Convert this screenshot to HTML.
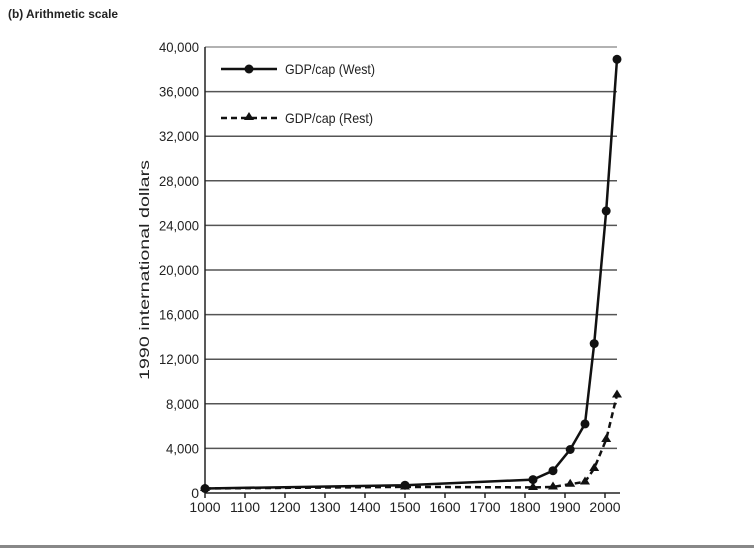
<!DOCTYPE html>
<html><head><meta charset="utf-8"><style>
body{margin:0;background:#fff;width:754px;height:554px;overflow:hidden}
text{font-family:"Liberation Sans Narrow","Liberation Sans",sans-serif;fill:#222}
</style></head><body>
<svg width="754" height="554" viewBox="0 0 754 554">
<text x="8" y="18" font-size="12" font-weight="bold" textLength="110" lengthAdjust="spacingAndGlyphs">(b) Arithmetic scale</text>
<g stroke="#555" stroke-width="1.5">
<line x1="205" y1="47" x2="617" y2="47" stroke="#999"/>
<line x1="205" y1="91.6" x2="617" y2="91.6"/>
<line x1="205" y1="136.2" x2="617" y2="136.2"/>
<line x1="205" y1="180.8" x2="617" y2="180.8"/>
<line x1="205" y1="225.4" x2="617" y2="225.4"/>
<line x1="205" y1="270" x2="617" y2="270"/>
<line x1="205" y1="314.6" x2="617" y2="314.6"/>
<line x1="205" y1="359.2" x2="617" y2="359.2"/>
<line x1="205" y1="403.8" x2="617" y2="403.8"/>
<line x1="205" y1="448.4" x2="617" y2="448.4"/>
</g>
<g stroke="#222" stroke-width="1.5">
<line x1="205" y1="47" x2="205" y2="493"/>
<line x1="205" y1="493" x2="620" y2="493"/>
<line x1="205" y1="493" x2="205" y2="498"/><line x1="245" y1="493" x2="245" y2="498"/><line x1="285" y1="493" x2="285" y2="498"/><line x1="325" y1="493" x2="325" y2="498"/><line x1="365" y1="493" x2="365" y2="498"/><line x1="405" y1="493" x2="405" y2="498"/><line x1="445" y1="493" x2="445" y2="498"/><line x1="485" y1="493" x2="485" y2="498"/><line x1="525" y1="493" x2="525" y2="498"/><line x1="565" y1="493" x2="565" y2="498"/><line x1="605" y1="493" x2="605" y2="498"/>
</g>
<g font-size="14" text-anchor="end">
<text x="199" y="52" textLength="40" lengthAdjust="spacingAndGlyphs">40,000</text><text x="199" y="96.6" textLength="40" lengthAdjust="spacingAndGlyphs">36,000</text><text x="199" y="141.2" textLength="40" lengthAdjust="spacingAndGlyphs">32,000</text><text x="199" y="185.8" textLength="40" lengthAdjust="spacingAndGlyphs">28,000</text><text x="199" y="230.4" textLength="40" lengthAdjust="spacingAndGlyphs">24,000</text><text x="199" y="275" textLength="40" lengthAdjust="spacingAndGlyphs">20,000</text><text x="199" y="319.6" textLength="40" lengthAdjust="spacingAndGlyphs">16,000</text><text x="199" y="364.2" textLength="40" lengthAdjust="spacingAndGlyphs">12,000</text><text x="199" y="408.8" textLength="33" lengthAdjust="spacingAndGlyphs">8,000</text><text x="199" y="453.4" textLength="33" lengthAdjust="spacingAndGlyphs">4,000</text><text x="199" y="498">0</text>
</g>
<g font-size="14" text-anchor="middle">
<text x="205" y="512">1000</text><text x="245" y="512">1100</text><text x="285" y="512">1200</text><text x="325" y="512">1300</text><text x="365" y="512">1400</text><text x="405" y="512">1500</text><text x="445" y="512">1600</text><text x="485" y="512">1700</text><text x="525" y="512">1800</text><text x="565" y="512">1900</text><text x="605" y="512">2000</text>
</g>
<text transform="translate(149,270) rotate(-90)" font-size="14" text-anchor="middle" textLength="220" lengthAdjust="spacingAndGlyphs">1990 international dollars</text>
<polyline fill="none" stroke="#111" stroke-width="2.5" stroke-dasharray="6,4" points="205,488.5 405,486.9 533,487.4 553,486.9 570.2,484.1 585,481.9 594.2,468.5 606.2,439.5 617,394.9"/>
<g fill="#111">
<path d="M205,483l5,8h-10z M405,481.5l5,8h-10z M533,482l5,8h-10z M553,481.5l5,8h-10z M570.2,478.7l5,8h-10z M585,476.5l5,8h-10z M594.2,463l5,8h-10z M606.2,434l5,8h-10z M617,389.5l5,8h-10z"/>
</g>
<polyline fill="none" stroke="#111" stroke-width="2.5" points="205,488.5 405,485.2 533,479.6 553,470.7 570.2,449.5 585,423.9 594.2,343.6 606.2,210.9 617,59.3"/>
<g fill="#111">
<circle cx="205" cy="488.5" r="4.5"/><circle cx="405" cy="485.2" r="4.5"/><circle cx="533" cy="479.6" r="4.5"/><circle cx="553" cy="470.7" r="4.5"/><circle cx="570.2" cy="449.5" r="4.5"/><circle cx="585" cy="423.9" r="4.5"/><circle cx="594.2" cy="343.6" r="4.5"/><circle cx="606.2" cy="210.9" r="4.5"/><circle cx="617" cy="59.3" r="4.5"/>
</g>
<line x1="221" y1="69" x2="277" y2="69" stroke="#111" stroke-width="2.5"/>
<circle cx="249" cy="69" r="4.5" fill="#111"/>
<text x="285" y="74" font-size="14" textLength="90" lengthAdjust="spacingAndGlyphs">GDP/cap (West)</text>
<line x1="221" y1="118" x2="277" y2="118" stroke="#111" stroke-width="2.5" stroke-dasharray="6,4"/>
<path d="M249,112l5,8h-10z" fill="#111"/>
<text x="285" y="123" font-size="14" textLength="88" lengthAdjust="spacingAndGlyphs">GDP/cap (Rest)</text>
<rect x="0" y="545" width="754" height="3" fill="#888"/>
</svg>
</body></html>
